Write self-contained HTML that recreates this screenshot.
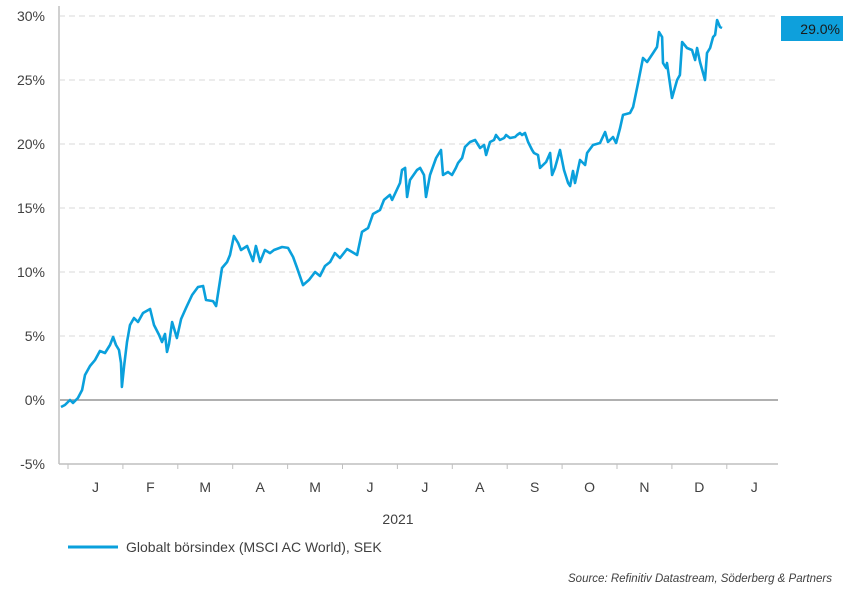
<!DOCTYPE html>
<html><head><meta charset="utf-8"><style>
body{margin:0;background:#fff;width:851px;height:588px;overflow:hidden;font-family:"Liberation Sans",sans-serif;}
</style></head><body>
<svg id="chart" width="851" height="588" xmlns="http://www.w3.org/2000/svg" font-family="Liberation Sans, sans-serif">
<g id="grid"></g><g id="axes"></g><g id="series"></g>
<text x="398" y="524" text-anchor="middle" font-size="14" fill="#404040">2021</text>
<line x1="68" y1="547" x2="118" y2="547" stroke="#0aa0dc" stroke-width="3"/>
<text x="126" y="552" font-size="14" fill="#404040">Globalt börsindex (MSCI AC World), SEK</text>
<text x="832" y="582" text-anchor="end" font-size="11.5" font-style="italic" fill="#404040">Source: Refinitiv Datastream, Söderberg &amp; Partners</text>
<rect x="781" y="16" width="62" height="25" fill="#0ea0dc"/>
<text x="840" y="34" text-anchor="end" font-size="14" fill="#1a1a1a">29.0%</text>
</svg>
<script>
const yTicks=[30,25,20,15,10,5,0,-5];
const yTickLabels=["30%","25%","20%","15%","10%","5%","0%","-5%"];
const monthLabels=["J","F","M","A","M","J","J","A","S","O","N","D","J"];
const days=[-3.9,-1.7,1.1,2.8,5.5,7.8,9.4,12.2,15.0,17.7,20.5,23.3,25.0,26.6,28.3,29.4,29.9,31.1,32.7,34.4,36.6,38.8,41.6,45.5,47.7,50.5,52.1,53.8,54.9,56.0,57.7,60.4,62.7,65.4,68.8,72.1,74.9,76.5,80.4,82.1,85.4,88.2,89.8,92.0,94.3,95.9,99.3,102.6,104.2,106.5,109.2,112.0,114.2,118.7,122.0,124.8,127.0,130.3,133.6,137.0,139.7,142.5,145.3,148.0,150.8,154.7,157.5,160.3,163.0,166.4,169.1,173.0,175.2,178.5,179.7,184.1,185.2,186.9,188.0,189.6,193.5,195.2,197.4,198.5,200.7,204.1,206.8,207.9,210.7,212.9,215.1,216.3,218.5,220.1,222.9,225.7,228.5,230.7,231.8,234.0,236.2,237.3,239.5,241.8,242.9,245.1,247.9,249.0,250.6,251.7,253.4,255.1,257.3,258.4,260.6,261.7,265.1,267.3,268.4,270.0,272.8,275.0,277.3,278.4,280.0,281.1,283.9,286.7,287.8,291.1,295.0,297.8,299.4,302.2,303.9,306.1,307.7,311.6,313.3,316.1,318.8,321.1,324.4,326.6,327.7,329.4,329.9,331.6,332.1,334.9,337.7,339.3,340.5,343.2,346.0,347.7,348.8,350.4,353.2,354.3,356.0,357.7,358.8,359.9,361.5,362.6];
const values=[-0.55,-0.39,0,-0.23,0.16,0.78,1.95,2.66,3.13,3.83,3.67,4.30,4.92,4.30,3.91,2.89,1.02,2.66,4.53,5.86,6.41,6.09,6.80,7.11,5.86,5.08,4.53,5.16,3.75,4.38,6.09,4.84,6.33,7.19,8.20,8.83,8.91,7.81,7.73,7.34,10.31,10.78,11.33,12.81,12.27,11.72,12.03,10.86,12.03,10.78,11.72,11.48,11.72,11.95,11.88,11.17,10.31,8.98,9.38,10.0,9.69,10.47,10.78,11.48,11.09,11.80,11.56,11.33,13.13,13.44,14.53,14.84,15.63,16.02,15.63,16.95,17.97,18.13,15.86,17.19,17.97,18.13,17.58,15.86,17.58,18.91,19.53,17.58,17.81,17.58,18.13,18.52,18.91,19.77,20.16,20.31,19.69,19.92,19.14,20.16,20.31,20.70,20.31,20.47,20.70,20.47,20.55,20.70,20.86,20.70,20.86,20.16,19.53,19.30,19.14,18.13,18.59,19.30,17.58,18.13,19.53,17.97,16.95,16.72,17.89,16.95,18.75,18.36,19.30,19.92,20.08,20.94,20.16,20.55,20.08,21.25,22.27,22.42,22.89,24.77,26.72,26.41,27.11,27.58,28.75,28.36,26.33,25.94,26.33,23.59,25.0,25.39,27.97,27.50,27.34,26.56,27.50,26.41,25.0,27.11,27.50,28.36,28.52,29.69,29.14,29.06];
const NS="http://www.w3.org/2000/svg";
const X0=59,X1=778;
function xScale(d){return 68+d/30.44*54.9;}
function yScale(v){return 400-v*12.8;}
function mk(tag,attrs,parent){const e=document.createElementNS(NS,tag);for(const k in attrs)e.setAttribute(k,attrs[k]);parent.appendChild(e);return e;}
const grid=document.getElementById('grid'),axes=document.getElementById('axes'),series=document.getElementById('series');
yTicks.forEach((t,i)=>{
  const y=yScale(t);
  if(t!==0&&t!==-5){const g=mk('line',{x1:X0,x2:X1,y1:y,y2:y,stroke:'#d9d9d9','stroke-dasharray':'6,4'},grid);
  
  }
  const l=mk('text',{x:45,y:y+5,'text-anchor':'end','font-size':14,fill:'#404040'},axes);
  l.textContent=yTickLabels[i];
  
  
});
const zl=mk('line',{x1:X0,x2:X1,y1:yScale(0),y2:yScale(0),stroke:'#808080','stroke-width':1.3},axes);


const ya=mk('line',{x1:X0,x2:X0,y1:6,y2:yScale(-5),stroke:'#d0d0d0','stroke-width':2},axes);


const xa=mk('line',{x1:X0,x2:X1,y1:yScale(-5),y2:yScale(-5),stroke:'#bfbfbf','stroke-width':1.5},axes);


for(let m=0;m<=13;m++){
  const x=xScale(m*30.44);
  if(x<=X1+2){const t=mk('line',{x1:x,x2:x,y1:yScale(-5),y2:yScale(-5)+5,stroke:'#bfbfbf'},axes);
  
  }
}
monthLabels.forEach((lab,i)=>{
  const t=mk('text',{x:xScale((i+0.5)*30.44),y:492,'text-anchor':'middle','font-size':14,fill:'#404040'},axes);
  t.textContent=lab;
  
  
});
const d=days.map((dd,i)=>(i?'L':'M')+xScale(dd).toFixed(1)+','+yScale(values[i]).toFixed(1)).join(' ');
const p=mk('path',{d:d,fill:'none',stroke:'#0aa0dc','stroke-width':2.6,'stroke-linejoin':'round'},series);


</script>
</body></html>
